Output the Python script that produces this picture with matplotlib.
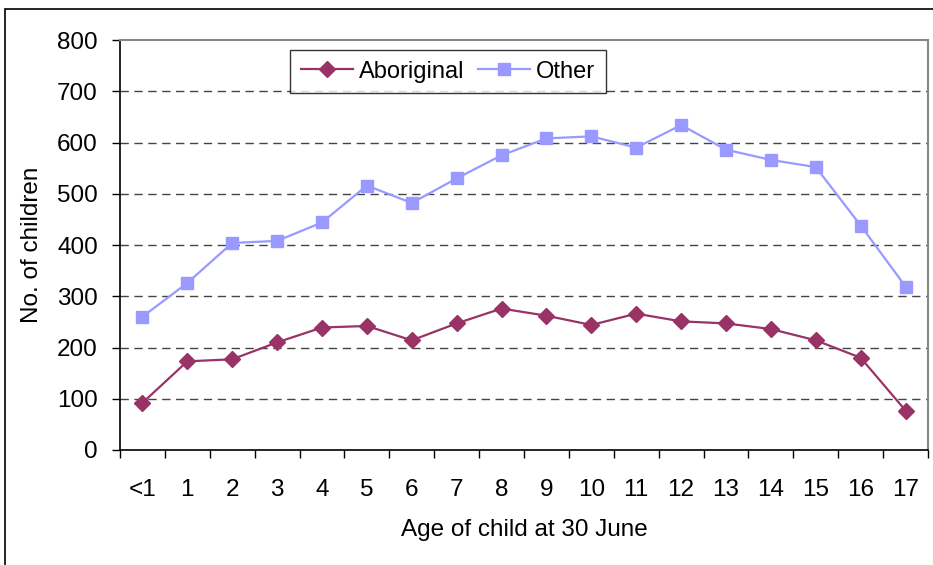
import matplotlib
matplotlib.use("Agg")
import matplotlib.pyplot as plt
import numpy as np
from matplotlib.patches import Rectangle

plt.rcParams["font.family"] = ["Liberation Sans", "DejaVu Sans"]

ages = ["<1", "1", "2", "3", "4", "5", "6", "7", "8", "9",
        "10", "11", "12", "13", "14", "15", "16", "17"]
aboriginal = [92, 173, 177, 210, 239, 242, 214, 247, 276, 262,
              244, 266, 251, 247, 236, 214, 180, 77]
other = [260, 326, 404, 408, 444, 516, 482, 530, 575, 608,
         612, 590, 634, 586, 566, 552, 438, 319]

fig = plt.figure(figsize=(9.33, 5.65), dpi=100)
ax = fig.add_axes([120 / 933, 1 - 450 / 565, 808 / 933, 410 / 565])

# outer chart frame
fig.patches.append(Rectangle((5 / 933, -0.1), 1.2, 1 - 9 / 565 + 0.1,
                             transform=fig.transFigure, fill=False,
                             edgecolor="black", linewidth=1.2))

x = np.arange(len(ages))
ax.plot(x, aboriginal, color="#993366", marker="D", markersize=8,
        linewidth=1.6, label="Aboriginal")
ax.plot(x, other, color="#9999FF", marker="s", markersize=8,
        linewidth=1.6, label="Other")

ax.set_xlim(-0.5, len(ages) - 0.5)
ax.set_ylim(0, 800)
ax.set_yticks(range(0, 801, 100))
ax.set_xticks(np.arange(-0.5, len(ages)), labels=[""] * (len(ages) + 1))
ax.set_xticks(x, labels=ages, minor=True)
ax.tick_params(axis="x", which="major", length=6, width=1, direction="out")
ax.tick_params(axis="x", which="minor", length=0, pad=21, labelsize=17.5)
ax.tick_params(axis="y", length=6, width=1, direction="out", pad=10,
               labelsize=17.5)

for v in range(100, 800, 100):
    ax.axhline(v, color="#444444", linestyle=(0, (6, 4)), linewidth=1,
               zorder=0)

ax.spines["top"].set_color("#888888")
ax.spines["right"].set_color("#888888")
ax.spines["top"].set_linewidth(1.5)
ax.spines["right"].set_linewidth(1.5)
ax.spines["left"].set_linewidth(1.2)
ax.spines["bottom"].set_linewidth(1.2)

ax.set_xlabel("Age of child at 30 June", fontsize=17.5, labelpad=13)
ax.set_ylabel("No. of children", fontsize=17.5, labelpad=10)

leg = ax.legend(loc="upper left", bbox_to_anchor=(170 / 808, 400 / 410),
                borderaxespad=0, ncol=2, fontsize=17, frameon=True,
                fancybox=False, edgecolor="black", borderpad=0.45,
                handlelength=2.2, columnspacing=0.6, handletextpad=0.25)
leg.get_frame().set_linewidth(1)

fig.savefig("out.png", dpi=100)
